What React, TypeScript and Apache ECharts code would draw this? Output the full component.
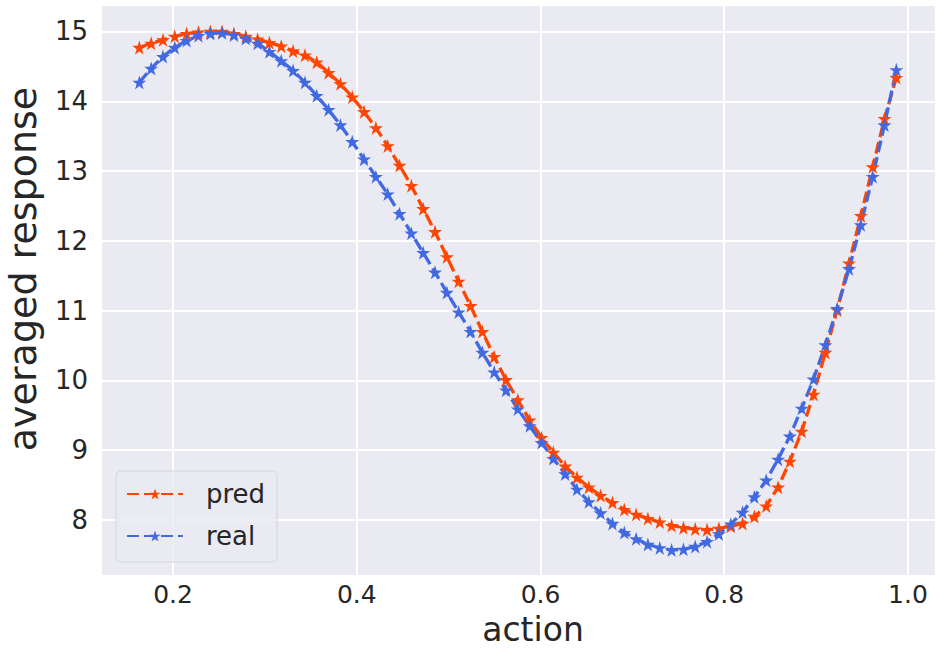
import React, { useEffect, useRef } from "react";
import * as echarts from "echarts";

const actions = [
  0.1633, 0.1762, 0.1891, 0.2019, 0.2148, 0.2277, 0.2406, 0.2534, 0.2663, 0.2792,
  0.2921, 0.3049, 0.3178, 0.3307, 0.3436, 0.3564, 0.3693, 0.3822, 0.3951, 0.4079,
  0.4208, 0.4337, 0.4466, 0.4594, 0.4723, 0.4852, 0.4981, 0.5109, 0.5238, 0.5367,
  0.5496, 0.5624, 0.5753, 0.5882, 0.6011, 0.6139, 0.6268, 0.6397, 0.6526, 0.6654,
  0.6783, 0.6912, 0.7041, 0.7169, 0.7298, 0.7427, 0.7556, 0.7684, 0.7813, 0.7942,
  0.8071, 0.8199, 0.8328, 0.8457, 0.8586, 0.8714, 0.8843, 0.8972, 0.9101, 0.9229,
  0.9358, 0.9487, 0.9616, 0.9744, 0.9873,
];

const predValues = [
  14.77, 14.83, 14.88, 14.93, 14.97, 14.99, 15.0, 15.0, 14.97, 14.93,
  14.89, 14.84, 14.79, 14.72, 14.66, 14.56, 14.41, 14.25, 14.06, 13.85,
  13.62, 13.36, 13.08, 12.79, 12.46, 12.13, 11.77, 11.42, 11.07, 10.7,
  10.34, 10.01, 9.72, 9.43, 9.18, 8.97, 8.77, 8.61, 8.47, 8.35,
  8.25, 8.15, 8.08, 8.02, 7.97, 7.92, 7.89, 7.87, 7.86, 7.88,
  7.91, 7.95, 8.05, 8.2, 8.47, 8.84, 9.27, 9.8, 10.4, 11.01,
  11.68, 12.36, 13.06, 13.75, 14.34,
];

const realValues = [
  14.27, 14.47, 14.64, 14.77, 14.87, 14.94, 14.97, 14.98, 14.95, 14.9,
  14.83, 14.71, 14.58, 14.44, 14.27, 14.08, 13.88, 13.66, 13.42, 13.17,
  12.92, 12.67, 12.39, 12.11, 11.83, 11.55, 11.26, 10.98, 10.7, 10.4,
  10.12, 9.86, 9.59, 9.35, 9.11, 8.88, 8.66, 8.44, 8.26, 8.1,
  7.95, 7.82, 7.73, 7.65, 7.6, 7.57, 7.58, 7.62, 7.69, 7.8,
  7.94, 8.11, 8.33, 8.57, 8.87, 9.2, 9.6, 10.02, 10.51, 11.03,
  11.6, 12.23, 12.92, 13.66, 14.45,
];

const xTicks = [0.2, 0.4, 0.6, 0.8, 1.0];
const yTicks = [8, 9, 10, 11, 12, 13, 14, 15];

const STAR =
  "path://M10 0L12.245 6.91L19.511 6.91L13.633 11.18L15.878 18.09L10 13.82L4.122 18.09L6.367 11.18L0.489 6.91L7.755 6.91Z";

const FONT = "DejaVu Sans";
const TEXT = "#262626";

export default function App() {
  const ref = useRef<HTMLDivElement>(null);
  useEffect(() => {
    const chart = echarts.init(ref.current!, undefined, { renderer: "svg" });
    const mk = (name: string, ys: number[], color: string) => ({
      name,
      type: "line",
      data: actions.map((x, i) => [x, ys[i]]),
      symbol: STAR,
      symbolSize: 14,
      showSymbol: true,
      itemStyle: { color },
      lineStyle: { color, width: 3.3, type: [12, 5] },
    });
    chart.setOption({
      animation: false,
      grid: {
        left: 102,
        right: 6,
        top: 6,
        bottom: 74,
        show: true,
        backgroundColor: "#EAEAF2",
        borderWidth: 0,
        outerBoundsMode: "none",
        containLabel: false,
      },
      legend: {
        orient: "vertical",
        left: 116,
        top: 471,
        itemWidth: 56,
        itemHeight: 14,
        itemGap: 16,
        padding: [10, 12, 13, 10],
        backgroundColor: "rgba(234,234,242,0.8)",
        borderColor: "#d4d4dc",
        borderWidth: 1,
        borderRadius: 5,
        textStyle: {
          fontFamily: FONT,
          fontSize: 26,
          color: TEXT,
          padding: [0, 0, 0, 18],
        },
        data: ["pred", "real"],
      },
      xAxis: {
        type: "value",
        min: 0.1227,
        max: 1.0294,
        name: "action",
        nameLocation: "middle",
        nameGap: 39,
        nameMoveOverlap: false,
        nameTextStyle: {
          fontFamily: FONT,
          fontSize: 33,
          lineHeight: 30,
          color: TEXT,
          padding: [0, 0, 0, 29],
        },
        axisLine: { show: false },
        axisTick: { show: false, customValues: xTicks },
        axisLabel: {
          customValues: xTicks,
          fontFamily: FONT,
          fontSize: 25,
          lineHeight: 25,
          color: TEXT,
          margin: 7,
          formatter: (v: number) => v.toFixed(1),
        },
        splitLine: { show: true, lineStyle: { color: "#ffffff", width: 2 } },
      },
      yAxis: {
        type: "value",
        min: 7.212,
        max: 15.365,
        name: "averaged response",
        nameLocation: "middle",
        nameGap: 60,
        nameMoveOverlap: false,
        nameTextStyle: {
          fontFamily: FONT,
          fontSize: 38,
          color: TEXT,
          padding: [0, 0, 0, 43],
        },
        axisLine: { show: false },
        axisTick: { show: false, customValues: yTicks },
        axisLabel: {
          customValues: yTicks,
          fontFamily: FONT,
          fontSize: 26,
          color: TEXT,
          margin: 14,
        },
        splitLine: { show: true, lineStyle: { color: "#ffffff", width: 2 } },
      },
      series: [mk("pred", predValues, "#FF4500"), mk("real", realValues, "#4169E1")],
    });
    return () => chart.dispose();
  }, []);
  return (
    <div
      ref={ref}
      style={{ position: "absolute", left: 0, top: 0, width: 941, height: 649 }}
    />
  );
}
